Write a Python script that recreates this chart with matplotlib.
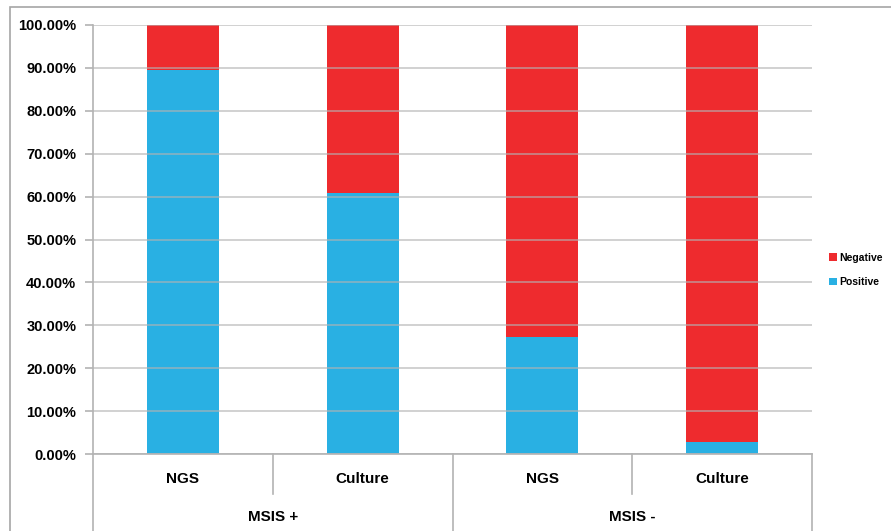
import matplotlib.pyplot as plt
from matplotlib.patches import Rectangle
from matplotlib.lines import Line2D
from matplotlib.ticker import FuncFormatter

plt.rcParams['font.family'] = ['Liberation Sans', 'DejaVu Sans']

tests = ['NGS', 'Culture', 'NGS', 'Culture']
groups = ['MSIS +', 'MSIS -']
positive = [89.5, 60.9, 27.2, 2.7]
negative = [100 - p for p in positive]

BLUE = '#29b0e3'
RED = '#ee2b2e'
GRID = '#b3b3b3'

W, H = 891, 531
fig = plt.figure(figsize=(W / 100, H / 100), dpi=100)

# outer frame of the chart area
fig.patches.append(Rectangle((10 / W, -0.05), 1.0, (531 - 7) / H + 0.05,
                             transform=fig.transFigure, fill=False,
                             edgecolor='#a6a6a6', linewidth=1.2))

x0, x1, y0, y1 = 93, 812, 454, 25
ax = fig.add_axes([x0 / W, (H - y0) / H, (x1 - x0) / W, (y0 - y1) / H])

xs = range(len(tests))
ax.bar(xs, positive, width=0.4, color=BLUE, label='Positive', zorder=2)
ax.bar(xs, negative, width=0.4, bottom=positive, color=RED, label='Negative', zorder=2)

ax.set_xlim(-0.5, 3.5)
ax.set_ylim(0, 100)
ax.set_yticks(range(0, 101, 10))
ax.yaxis.set_major_formatter(FuncFormatter(lambda v, p: f'{v:.2f}%'))
ax.grid(axis='y', color=GRID, linewidth=1.2, alpha=0.7, zorder=3)
ax.set_axisbelow(False)
for s in ['top', 'right', 'bottom']:
    ax.spines[s].set_visible(False)
ax.spines['left'].set_color(GRID)
ax.spines['left'].set_linewidth(1.2)
ax.tick_params(axis='y', length=6, width=1.2, color=GRID, pad=6,
               labelsize=10.5)
for lbl in ax.get_yticklabels():
    lbl.set_fontweight('bold')
ax.set_xticks([])

# two-level category axis under the plot
tr = ax.get_xaxis_transform()
px = 1 / (y0 - y1)
ax.add_line(Line2D([-0.5, 3.5], [0, 0], transform=tr, color=GRID, lw=1.2, clip_on=False))
for xb in [-0.5, 1.5, 3.5]:
    ax.add_line(Line2D([xb, xb], [0, -(531 - y0 + 5) * px], transform=tr,
                       color=GRID, lw=1.2, clip_on=False))
for xb in [0.5, 2.5]:
    ax.add_line(Line2D([xb, xb], [0, -(494 - y0) * px], transform=tr,
                       color=GRID, lw=1.2, clip_on=False))
for i, t in enumerate(tests):
    ax.text(i, -(479 - y0) * px, t, transform=tr, ha='center', va='center',
            fontsize=11, fontweight='bold')
for i, g in enumerate(groups):
    ax.text(0.5 + 2 * i, -(517 - y0) * px, g, transform=tr, ha='center',
            va='center', fontsize=11, fontweight='bold')

handles, labels = ax.get_legend_handles_labels()
fig.legend(handles[::-1], labels[::-1], loc='center left',
           bbox_to_anchor=(822 / W, (H - 270) / H), frameon=False,
           prop={'size': 7.5, 'weight': 'bold'}, handlelength=0.7,
           handleheight=0.7, handletextpad=0.3, labelspacing=1.4,
           borderpad=0.2)

fig.savefig('out.png', dpi=100)
